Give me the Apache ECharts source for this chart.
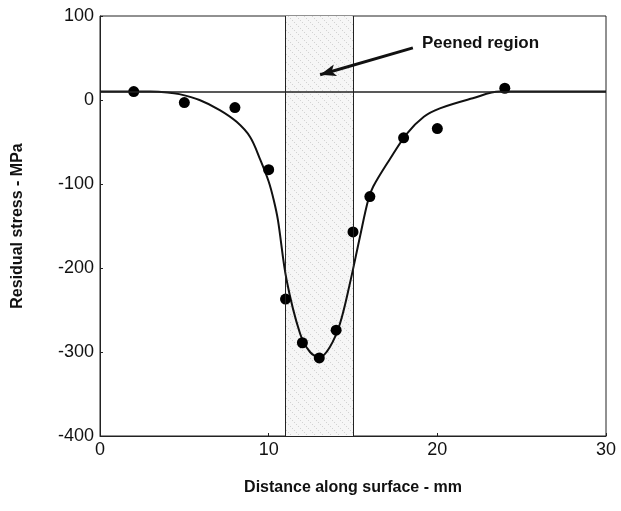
<!DOCTYPE html>
<html>
<head>
<meta charset="utf-8">
<script src="https://cdn.jsdelivr.net/npm/echarts@6/dist/echarts.min.js"></script>
<style>
html, body { margin: 0; padding: 0; background: #fff; }
#chart { width: 621px; height: 511px; }
</style>
</head>
<body>
<div id="chart"></div>
<script>
// measured points (distance mm, stress MPa)
const pointX = [2, 5, 8, 10, 11, 12, 13, 14, 15, 16, 18, 20, 24];
const pointY = [10, -3, -9, -83, -237, -289, -307, -274, -157, -115, -45, -34, 14];

// fitted curve
const curveX = [0, 2, 3, 4, 4.7, 5.9, 7.1, 8.1, 8.9, 9.5, 10, 10.3, 10.55, 11.06, 11.86, 12.45, 13.04, 13.63, 14.23, 14.82, 15.41, 15.9, 16.2, 17.2, 18.2, 19.2, 20.15, 22.1, 23.7, 30];
const curveY = [10, 10, 10, 9, 7, 0, -12, -26, -44, -71, -97, -119, -143, -214, -278, -300, -306, -294, -266, -218, -163, -119, -103, -70, -40, -20, -10, 2, 10, 10];

const peenedRegion = [11, 15];
const baseline = 10;
const arrowFrom = [18.55, 62];
const arrowTo = [13.05, 30];

const yTicks = [100, 0, -100, -200, -300, -400];
const xTicks = [0, 10, 20, 30];

function hatch() {
    const c = document.createElement('canvas');
    c.width = 8; c.height = 8;
    const g = c.getContext('2d');
    g.fillStyle = '#f6f6f6';
    g.fillRect(0, 0, 8, 8);
    g.fillStyle = '#d2d2d2';
    for (let i = 0; i < 8; i += 2) g.fillRect(i, i, 1, 1);
    return c;
}

const chart = echarts.init(document.getElementById('chart'));
const tickFont = { fontFamily: 'Liberation Sans Narrow, Liberation Sans, Arial', fontSize: 18, color: '#111' };
const titleFont = { fontFamily: 'Liberation Sans, Arial', fontSize: 16, fontWeight: 'bold', color: '#111' };

const option = {
    animation: false,
    grid: { left: 100, right: 15, top: 16, bottom: 75, show: true, borderColor: '#222', borderWidth: 1 },
    xAxis: {
        type: 'value', min: xTicks[0], max: xTicks[xTicks.length - 1], interval: 10,
        name: 'Distance along surface - mm', nameLocation: 'middle', nameGap: 44,
        nameTextStyle: titleFont,
        axisLine: { onZero: false, lineStyle: { color: '#222' } },
        axisTick: { inside: true, length: 3, lineStyle: { color: '#222' } },
        axisLabel: Object.assign({ margin: 5 }, tickFont),
        splitLine: { show: false }
    },
    yAxis: {
        type: 'value', min: yTicks[yTicks.length - 1], max: yTicks[0], interval: 100,
        name: 'Residual stress - MPa', nameLocation: 'middle', nameGap: 74,
        nameTextStyle: titleFont,
        axisLine: { show: true, onZero: false, lineStyle: { color: '#222' } },
        axisTick: { inside: true, length: 3, lineStyle: { color: '#222' } },
        axisLabel: Object.assign({ margin: 6 }, tickFont),
        splitLine: { show: false }
    },
    series: [
        {
            type: 'line',
            data: curveX.map((x, i) => [x, curveY[i]]),
            smooth: 0.35,
            showSymbol: false,
            lineStyle: { color: '#111', width: 2 },
            z: 3,
            markArea: {
                silent: true,
                itemStyle: { color: { image: hatch(), repeat: 'repeat' } },
                data: [[{ xAxis: peenedRegion[0] }, { xAxis: peenedRegion[1] }]]
            },
            markLine: {
                silent: true,
                symbol: ['none', 'none'],
                label: { show: false },
                lineStyle: { color: '#222', width: 1, type: 'solid' },
                data: [
                    { xAxis: peenedRegion[0] },
                    { xAxis: peenedRegion[1] },
                    { yAxis: baseline, lineStyle: { width: 1.5 } },
                    [
                        { coord: arrowFrom, symbol: 'none', lineStyle: { width: 3, color: '#111' } },
                        { coord: arrowTo, symbol: 'arrow', symbolSize: [9, 16] }
                    ]
                ]
            }
        },
        {
            type: 'scatter',
            data: pointX.map((x, i) => [x, pointY[i]]),
            symbolSize: 11,
            itemStyle: { color: '#000', opacity: 1 },
            z: 4
        }
    ],
    graphic: [
        {
            type: 'text', left: 422, top: 35,
            style: { text: 'Peened region', fill: '#111', font: 'bold 17px Liberation Sans, Arial' }
        }
    ]
};
chart.setOption(option);
</script>
</body>
</html>
